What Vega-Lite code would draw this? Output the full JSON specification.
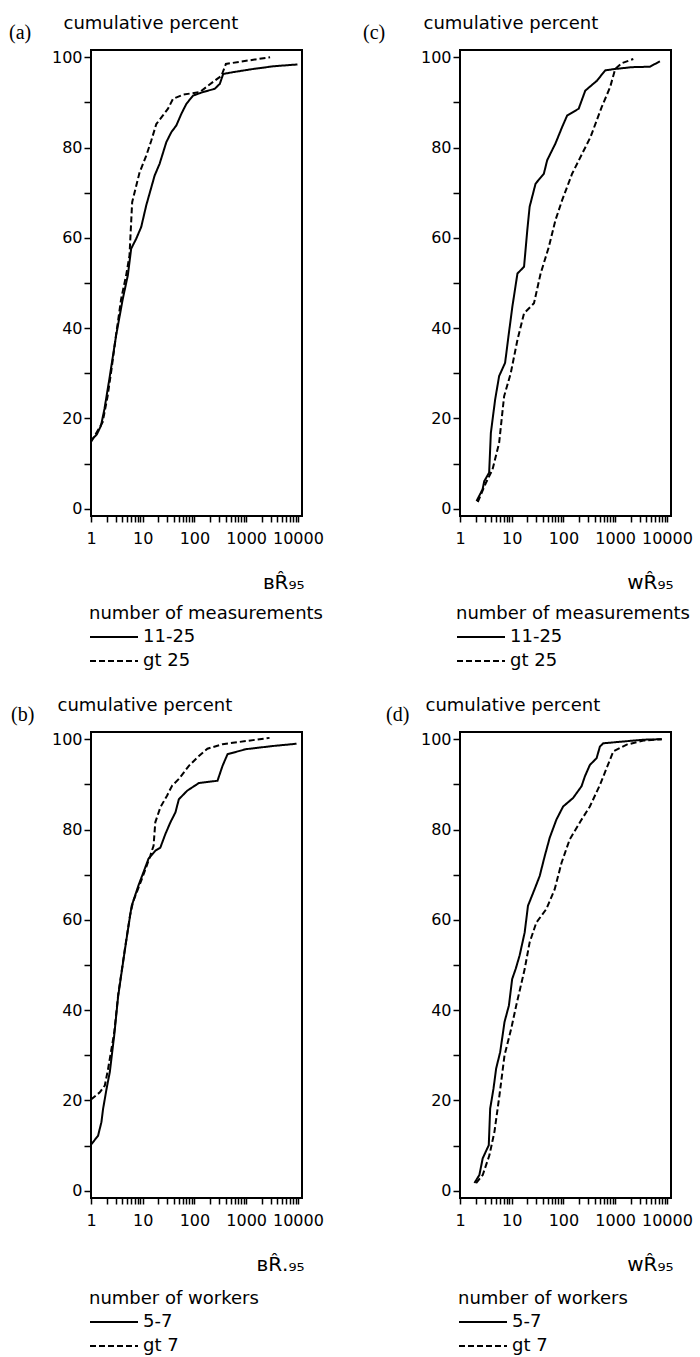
{
  "$schema": "https://vega.github.io/schema/vega-lite/v6.json",
  "background": "white",
  "padding": {"left": 8, "top": 13, "right": 5, "bottom": 5},
  "columns": 2,
  "spacing": {"row": 216, "column": 158},
  "bounds": "flush",
  "resolve": {"scale": {"strokeDash": "independent"}, "legend": {"strokeDash": "independent"}},
  "datasets": {
    "curves": [
      {"panel": "a", "series": "11-25", "x": 1.0, "y": 15.1},
      {"panel": "a", "series": "11-25", "x": 1.3, "y": 16.5},
      {"panel": "a", "series": "11-25", "x": 1.56, "y": 18.4},
      {"panel": "a", "series": "11-25", "x": 1.82, "y": 22.1},
      {"panel": "a", "series": "11-25", "x": 2.27, "y": 28.8},
      {"panel": "a", "series": "11-25", "x": 3.06, "y": 38.4},
      {"panel": "a", "series": "11-25", "x": 4.12, "y": 46.5},
      {"panel": "a", "series": "11-25", "x": 5.15, "y": 51.7},
      {"panel": "a", "series": "11-25", "x": 5.98, "y": 57.6},
      {"panel": "a", "series": "11-25", "x": 7.48, "y": 59.8},
      {"panel": "a", "series": "11-25", "x": 9.35, "y": 62.4},
      {"panel": "a", "series": "11-25", "x": 11.7, "y": 67.2},
      {"panel": "a", "series": "11-25", "x": 17.0, "y": 73.8},
      {"panel": "a", "series": "11-25", "x": 21.2, "y": 76.4},
      {"panel": "a", "series": "11-25", "x": 28.6, "y": 81.2},
      {"panel": "a", "series": "11-25", "x": 35.7, "y": 83.4},
      {"panel": "a", "series": "11-25", "x": 44.7, "y": 84.9},
      {"panel": "a", "series": "11-25", "x": 56, "y": 87.5},
      {"panel": "a", "series": "11-25", "x": 70, "y": 89.7},
      {"panel": "a", "series": "11-25", "x": 94, "y": 91.5},
      {"panel": "a", "series": "11-25", "x": 147, "y": 92.3},
      {"panel": "a", "series": "11-25", "x": 246, "y": 93.0},
      {"panel": "a", "series": "11-25", "x": 309, "y": 94.1},
      {"panel": "a", "series": "11-25", "x": 360, "y": 96.3},
      {"panel": "a", "series": "11-25", "x": 563, "y": 96.7},
      {"panel": "a", "series": "11-25", "x": 1374, "y": 97.4},
      {"panel": "a", "series": "11-25", "x": 3380, "y": 98.0},
      {"panel": "a", "series": "11-25", "x": 9800, "y": 98.4},
      {"panel": "a", "series": "gt 25", "x": 1.0, "y": 14.8},
      {"panel": "a", "series": "gt 25", "x": 1.3, "y": 17.0},
      {"panel": "a", "series": "gt 25", "x": 1.68, "y": 19.2},
      {"panel": "a", "series": "gt 25", "x": 2.1, "y": 25.0},
      {"panel": "a", "series": "gt 25", "x": 2.5, "y": 31.0},
      {"panel": "a", "series": "gt 25", "x": 3.06, "y": 38.6},
      {"panel": "a", "series": "gt 25", "x": 3.83, "y": 46.5},
      {"panel": "a", "series": "gt 25", "x": 4.78, "y": 51.7},
      {"panel": "a", "series": "gt 25", "x": 5.55, "y": 56.1},
      {"panel": "a", "series": "gt 25", "x": 6.25, "y": 67.9},
      {"panel": "a", "series": "gt 25", "x": 8.7, "y": 74.5},
      {"panel": "a", "series": "gt 25", "x": 11.7, "y": 78.2},
      {"panel": "a", "series": "gt 25", "x": 14.6, "y": 81.5},
      {"panel": "a", "series": "gt 25", "x": 18.3, "y": 85.2},
      {"panel": "a", "series": "gt 25", "x": 24.6, "y": 87.1},
      {"panel": "a", "series": "gt 25", "x": 30.8, "y": 88.6},
      {"panel": "a", "series": "gt 25", "x": 38.5, "y": 90.8},
      {"panel": "a", "series": "gt 25", "x": 60, "y": 91.7},
      {"panel": "a", "series": "gt 25", "x": 127, "y": 92.3},
      {"panel": "a", "series": "gt 25", "x": 184, "y": 93.7},
      {"panel": "a", "series": "gt 25", "x": 246, "y": 94.8},
      {"panel": "a", "series": "gt 25", "x": 333, "y": 95.9},
      {"panel": "a", "series": "gt 25", "x": 405, "y": 98.5},
      {"panel": "a", "series": "gt 25", "x": 760, "y": 99.0},
      {"panel": "a", "series": "gt 25", "x": 2900, "y": 100.0},

      {"panel": "c", "series": "11-25", "x": 2.09, "y": 1.7},
      {"panel": "c", "series": "11-25", "x": 2.73, "y": 4.3},
      {"panel": "c", "series": "11-25", "x": 2.94, "y": 6.1},
      {"panel": "c", "series": "11-25", "x": 3.66, "y": 8.0},
      {"panel": "c", "series": "11-25", "x": 3.95, "y": 16.8},
      {"panel": "c", "series": "11-25", "x": 4.78, "y": 24.2},
      {"panel": "c", "series": "11-25", "x": 5.71, "y": 29.4},
      {"panel": "c", "series": "11-25", "x": 7.44, "y": 32.3},
      {"panel": "c", "series": "11-25", "x": 8.63, "y": 38.1},
      {"panel": "c", "series": "11-25", "x": 10.3, "y": 44.8},
      {"panel": "c", "series": "11-25", "x": 12.9, "y": 52.1},
      {"panel": "c", "series": "11-25", "x": 17.3, "y": 53.6},
      {"panel": "c", "series": "11-25", "x": 20, "y": 61.7},
      {"panel": "c", "series": "11-25", "x": 22.2, "y": 66.9},
      {"panel": "c", "series": "11-25", "x": 28.9, "y": 72.0},
      {"panel": "c", "series": "11-25", "x": 41.8, "y": 74.2},
      {"panel": "c", "series": "11-25", "x": 48.5, "y": 77.2},
      {"panel": "c", "series": "11-25", "x": 70, "y": 80.9},
      {"panel": "c", "series": "11-25", "x": 94, "y": 84.5},
      {"panel": "c", "series": "11-25", "x": 118, "y": 87.1},
      {"panel": "c", "series": "11-25", "x": 197, "y": 88.6},
      {"panel": "c", "series": "11-25", "x": 264, "y": 92.6},
      {"panel": "c", "series": "11-25", "x": 444, "y": 94.8},
      {"panel": "c", "series": "11-25", "x": 643, "y": 97.1},
      {"panel": "c", "series": "11-25", "x": 1000, "y": 97.4},
      {"panel": "c", "series": "11-25", "x": 2100, "y": 97.8},
      {"panel": "c", "series": "11-25", "x": 4700, "y": 97.9},
      {"panel": "c", "series": "11-25", "x": 7330, "y": 99.1},
      {"panel": "c", "series": "gt 25", "x": 2.2, "y": 1.5},
      {"panel": "c", "series": "gt 25", "x": 3.16, "y": 5.7},
      {"panel": "c", "series": "gt 25", "x": 4.25, "y": 8.7},
      {"panel": "c", "series": "gt 25", "x": 5.71, "y": 14.6},
      {"panel": "c", "series": "gt 25", "x": 7.12, "y": 24.9},
      {"panel": "c", "series": "gt 25", "x": 9.56, "y": 30.0},
      {"panel": "c", "series": "gt 25", "x": 12.9, "y": 37.4},
      {"panel": "c", "series": "gt 25", "x": 17.3, "y": 43.3},
      {"panel": "c", "series": "gt 25", "x": 26.9, "y": 45.5},
      {"panel": "c", "series": "gt 25", "x": 36.2, "y": 52.1},
      {"panel": "c", "series": "gt 25", "x": 52.2, "y": 58.0},
      {"panel": "c", "series": "gt 25", "x": 70, "y": 63.9},
      {"panel": "c", "series": "gt 25", "x": 94, "y": 68.3},
      {"panel": "c", "series": "gt 25", "x": 147, "y": 74.2},
      {"panel": "c", "series": "gt 25", "x": 229, "y": 78.6},
      {"panel": "c", "series": "gt 25", "x": 333, "y": 82.3},
      {"panel": "c", "series": "gt 25", "x": 550, "y": 89.0},
      {"panel": "c", "series": "gt 25", "x": 800, "y": 93.4},
      {"panel": "c", "series": "gt 25", "x": 1000, "y": 97.4},
      {"panel": "c", "series": "gt 25", "x": 1350, "y": 98.7},
      {"panel": "c", "series": "gt 25", "x": 2240, "y": 99.6},

      {"panel": "b", "series": "5-7", "x": 1.0, "y": 10.2},
      {"panel": "b", "series": "5-7", "x": 1.37, "y": 12.2},
      {"panel": "b", "series": "5-7", "x": 1.59, "y": 15.2},
      {"panel": "b", "series": "5-7", "x": 1.71, "y": 18.1},
      {"panel": "b", "series": "5-7", "x": 2.0, "y": 22.6},
      {"panel": "b", "series": "5-7", "x": 2.31, "y": 26.3},
      {"panel": "b", "series": "5-7", "x": 2.81, "y": 34.4},
      {"panel": "b", "series": "5-7", "x": 3.36, "y": 43.2},
      {"panel": "b", "series": "5-7", "x": 3.91, "y": 48.4},
      {"panel": "b", "series": "5-7", "x": 4.54, "y": 53.5},
      {"panel": "b", "series": "5-7", "x": 5.69, "y": 60.9},
      {"panel": "b", "series": "5-7", "x": 6.12, "y": 63.1},
      {"panel": "b", "series": "5-7", "x": 8.26, "y": 67.6},
      {"panel": "b", "series": "5-7", "x": 10.3, "y": 70.5},
      {"panel": "b", "series": "5-7", "x": 12.9, "y": 73.5},
      {"panel": "b", "series": "5-7", "x": 17.5, "y": 75.3},
      {"panel": "b", "series": "5-7", "x": 21.9, "y": 76.0},
      {"panel": "b", "series": "5-7", "x": 27.4, "y": 79.0},
      {"panel": "b", "series": "5-7", "x": 34.3, "y": 81.6},
      {"panel": "b", "series": "5-7", "x": 42.9, "y": 83.8},
      {"panel": "b", "series": "5-7", "x": 49.9, "y": 86.7},
      {"panel": "b", "series": "5-7", "x": 72.4, "y": 88.6},
      {"panel": "b", "series": "5-7", "x": 122, "y": 90.3},
      {"panel": "b", "series": "5-7", "x": 279, "y": 90.8},
      {"panel": "b", "series": "5-7", "x": 349, "y": 94.1},
      {"panel": "b", "series": "5-7", "x": 437, "y": 96.7},
      {"panel": "b", "series": "5-7", "x": 995, "y": 97.8},
      {"panel": "b", "series": "5-7", "x": 3300, "y": 98.5},
      {"panel": "b", "series": "5-7", "x": 9400, "y": 99.0},
      {"panel": "b", "series": "gt 7", "x": 1.0, "y": 20.2},
      {"panel": "b", "series": "gt 7", "x": 1.48, "y": 21.8},
      {"panel": "b", "series": "gt 7", "x": 1.85, "y": 23.3},
      {"panel": "b", "series": "gt 7", "x": 2.14, "y": 27.0},
      {"panel": "b", "series": "gt 7", "x": 2.81, "y": 35.0},
      {"panel": "b", "series": "gt 7", "x": 3.36, "y": 43.5},
      {"panel": "b", "series": "gt 7", "x": 3.91, "y": 48.6},
      {"panel": "b", "series": "gt 7", "x": 4.54, "y": 53.7},
      {"panel": "b", "series": "gt 7", "x": 5.69, "y": 61.0},
      {"panel": "b", "series": "gt 7", "x": 6.5, "y": 64.0},
      {"panel": "b", "series": "gt 7", "x": 9.6, "y": 69.0},
      {"panel": "b", "series": "gt 7", "x": 14.0, "y": 74.2},
      {"panel": "b", "series": "gt 7", "x": 16.2, "y": 76.4},
      {"panel": "b", "series": "gt 7", "x": 17.5, "y": 81.6},
      {"panel": "b", "series": "gt 7", "x": 21.9, "y": 84.9},
      {"panel": "b", "series": "gt 7", "x": 29.5, "y": 87.5},
      {"panel": "b", "series": "gt 7", "x": 36.9, "y": 89.7},
      {"panel": "b", "series": "gt 7", "x": 49.9, "y": 91.2},
      {"panel": "b", "series": "gt 7", "x": 78, "y": 94.1},
      {"panel": "b", "series": "gt 7", "x": 122, "y": 96.3},
      {"panel": "b", "series": "gt 7", "x": 178, "y": 97.9},
      {"panel": "b", "series": "gt 7", "x": 349, "y": 98.9},
      {"panel": "b", "series": "gt 7", "x": 995, "y": 99.6},
      {"panel": "b", "series": "gt 7", "x": 2830, "y": 100.3},

      {"panel": "d", "series": "5-7", "x": 1.9, "y": 1.7},
      {"panel": "d", "series": "5-7", "x": 2.37, "y": 3.5},
      {"panel": "d", "series": "5-7", "x": 2.75, "y": 7.2},
      {"panel": "d", "series": "5-7", "x": 3.6, "y": 10.1},
      {"panel": "d", "series": "5-7", "x": 3.83, "y": 18.2},
      {"panel": "d", "series": "5-7", "x": 4.44, "y": 22.6},
      {"panel": "d", "series": "5-7", "x": 5.0, "y": 27.1},
      {"panel": "d", "series": "5-7", "x": 5.98, "y": 30.7},
      {"panel": "d", "series": "5-7", "x": 7.26, "y": 37.4},
      {"panel": "d", "series": "5-7", "x": 8.81, "y": 41.0},
      {"panel": "d", "series": "5-7", "x": 10.2, "y": 46.9},
      {"panel": "d", "series": "5-7", "x": 11.9, "y": 49.1},
      {"panel": "d", "series": "5-7", "x": 14.2, "y": 52.1},
      {"panel": "d", "series": "5-7", "x": 17.8, "y": 57.2},
      {"panel": "d", "series": "5-7", "x": 20.6, "y": 63.1},
      {"panel": "d", "series": "5-7", "x": 27.7, "y": 66.8},
      {"panel": "d", "series": "5-7", "x": 34.7, "y": 69.7},
      {"panel": "d", "series": "5-7", "x": 43.4, "y": 74.1},
      {"panel": "d", "series": "5-7", "x": 54.3, "y": 78.2},
      {"panel": "d", "series": "5-7", "x": 73.1, "y": 82.2},
      {"panel": "d", "series": "5-7", "x": 98.6, "y": 85.1},
      {"panel": "d", "series": "5-7", "x": 154, "y": 87.0},
      {"panel": "d", "series": "5-7", "x": 224, "y": 89.6},
      {"panel": "d", "series": "5-7", "x": 260, "y": 91.8},
      {"panel": "d", "series": "5-7", "x": 324, "y": 94.3},
      {"panel": "d", "series": "5-7", "x": 437, "y": 95.8},
      {"panel": "d", "series": "5-7", "x": 508, "y": 98.4},
      {"panel": "d", "series": "5-7", "x": 589, "y": 99.1},
      {"panel": "d", "series": "5-7", "x": 1445, "y": 99.5},
      {"panel": "d", "series": "5-7", "x": 3540, "y": 99.9},
      {"panel": "d", "series": "5-7", "x": 7960, "y": 100.0},
      {"panel": "d", "series": "gt 7", "x": 2.05, "y": 1.7},
      {"panel": "d", "series": "gt 7", "x": 2.75, "y": 3.5},
      {"panel": "d", "series": "gt 7", "x": 3.71, "y": 7.9},
      {"panel": "d", "series": "gt 7", "x": 4.64, "y": 13.1},
      {"panel": "d", "series": "gt 7", "x": 5.8, "y": 21.2},
      {"panel": "d", "series": "gt 7", "x": 7.26, "y": 30.0},
      {"panel": "d", "series": "gt 7", "x": 9.78, "y": 35.9},
      {"panel": "d", "series": "gt 7", "x": 12.2, "y": 41.0},
      {"panel": "d", "series": "gt 7", "x": 17.8, "y": 49.1},
      {"panel": "d", "series": "gt 7", "x": 22.2, "y": 55.0},
      {"panel": "d", "series": "gt 7", "x": 29.9, "y": 59.4},
      {"panel": "d", "series": "gt 7", "x": 46.7, "y": 62.4},
      {"panel": "d", "series": "gt 7", "x": 67.8, "y": 66.8},
      {"panel": "d", "series": "gt 7", "x": 91.6, "y": 72.6},
      {"panel": "d", "series": "gt 7", "x": 132, "y": 77.8},
      {"panel": "d", "series": "gt 7", "x": 224, "y": 82.2},
      {"panel": "d", "series": "gt 7", "x": 324, "y": 85.1},
      {"panel": "d", "series": "gt 7", "x": 508, "y": 89.9},
      {"panel": "d", "series": "gt 7", "x": 920, "y": 97.3},
      {"panel": "d", "series": "gt 7", "x": 1670, "y": 98.8},
      {"panel": "d", "series": "gt 7", "x": 3540, "y": 99.7},
      {"panel": "d", "series": "gt 7", "x": 7960, "y": 100.0}
    ]
  },
  "concat": [
    {
      "width": 211, "height": 466,
      "title": {"text": "(a)", "dx": -82, "dy": 33},
      "data": {"name": "curves"},
      "transform": [{"filter": "datum.panel == 'a'"}],
      "mark": {"type": "line", "color": "black", "strokeWidth": 2},
      "encoding": {
        "x": {"field": "x", "type": "quantitative", "scale": {"type": "log", "domain": [1, 12000], "nice": false},
              "axis": {"title": "ʙR̂₉₅", "titleX": 213, "titleY": 72}},
        "y": {"field": "y", "type": "quantitative", "scale": {"domain": [-1.6, 101.6], "nice": false, "zero": false},
              "axis": {"title": "cumulative percent", "titleX": -28, "titleY": -22}},
        "strokeDash": {"field": "series", "type": "nominal",
              "scale": {"domain": ["11-25", "gt 25"], "range": [[1, 0], [6, 3]]},
              "legend": {"title": "number of measurements", "legendX": -2, "legendY": 555}}
      }
    },
    {
      "width": 211, "height": 466,
      "title": {"text": "(c)", "dx": -97, "dy": 33},
      "data": {"name": "curves"},
      "transform": [{"filter": "datum.panel == 'c'"}],
      "mark": {"type": "line", "color": "black", "strokeWidth": 2},
      "encoding": {
        "x": {"field": "x", "type": "quantitative", "scale": {"type": "log", "domain": [1, 12000], "nice": false},
              "axis": {"title": "wR̂₉₅", "titleX": 213, "titleY": 72}},
        "y": {"field": "y", "type": "quantitative", "scale": {"domain": [-1.6, 101.6], "nice": false, "zero": false},
              "axis": {"title": "cumulative percent", "titleX": -37, "titleY": -22}},
        "strokeDash": {"field": "series", "type": "nominal",
              "scale": {"domain": ["11-25", "gt 25"], "range": [[1, 0], [6, 3]]},
              "legend": {"title": "number of measurements", "legendX": -4, "legendY": 555}}
      }
    },
    {
      "width": 211, "height": 466,
      "title": {"text": "(b)", "dx": -80, "dy": 33},
      "data": {"name": "curves"},
      "transform": [{"filter": "datum.panel == 'b'"}],
      "mark": {"type": "line", "color": "black", "strokeWidth": 2},
      "encoding": {
        "x": {"field": "x", "type": "quantitative", "scale": {"type": "log", "domain": [1, 12000], "nice": false},
              "axis": {"title": "ʙR̂.₉₅", "titleX": 213, "titleY": 72}},
        "y": {"field": "y", "type": "quantitative", "scale": {"domain": [-1.6, 101.6], "nice": false, "zero": false},
              "axis": {"title": "cumulative percent", "titleX": -34, "titleY": -22}},
        "strokeDash": {"field": "series", "type": "nominal",
              "scale": {"domain": ["5-7", "gt 7"], "range": [[1, 0], [6, 3]]},
              "legend": {"title": "number of workers", "legendX": -2, "legendY": 558}}
      }
    },
    {
      "width": 211, "height": 466,
      "title": {"text": "(d)", "dx": -74, "dy": 33},
      "data": {"name": "curves"},
      "transform": [{"filter": "datum.panel == 'd'"}],
      "mark": {"type": "line", "color": "black", "strokeWidth": 2},
      "encoding": {
        "x": {"field": "x", "type": "quantitative", "scale": {"type": "log", "domain": [1, 12000], "nice": false},
              "axis": {"title": "wR̂₉₅", "titleX": 213, "titleY": 72}},
        "y": {"field": "y", "type": "quantitative", "scale": {"domain": [-1.6, 101.6], "nice": false, "zero": false},
              "axis": {"title": "cumulative percent", "titleX": -35, "titleY": -22}},
        "strokeDash": {"field": "series", "type": "nominal",
              "scale": {"domain": ["5-7", "gt 7"], "range": [[1, 0], [6, 3]]},
              "legend": {"title": "number of workers", "legendX": -2, "legendY": 558}}
      }
    }
  ],
  "config": {
    "font": "DejaVu Sans",
    "view": {"stroke": "black", "strokeWidth": 2},
    "title": {"font": "Liberation Serif", "fontSize": 20, "fontWeight": "normal", "color": "black", "anchor": "start", "frame": "group", "offset": 0, "baseline": "alphabetic"},
    "axisX": {
      "values": [1,2,3,4,5,6,7,8,9,10,20,30,40,50,60,70,80,90,100,200,300,400,500,600,700,800,900,1000,2000,3000,4000,5000,6000,7000,8000,9000,10000],
      "format": "d",
      "labelExpr": "(datum.value == 1 || datum.value == 10 || datum.value == 100 || datum.value == 1000 || datum.value == 10000) ? datum.label : ''",
      "labelOverlap": false, "labelFlush": false, "labelBound": false,
      "tickSize": 6, "labelPadding": 8,
      "titleAlign": "right", "titleBaseline": "alphabetic", "titleFontSize": 20
    },
    "axisY": {
      "values": [0,10,20,30,40,50,60,70,80,90,100],
      "labelExpr": "datum.value % 20 == 0 ? datum.label : ''",
      "tickSize": 7, "labelPadding": 2,
      "titleAngle": 0, "titleAlign": "left", "titleBaseline": "alphabetic", "titleFontSize": 18
    },
    "axis": {
      "domain": false, "grid": false,
      "tickColor": "black", "tickWidth": 1.5,
      "labelColor": "black", "labelFontSize": 16, "labelFont": "DejaVu Sans",
      "titleColor": "black", "titleFontWeight": "normal", "titleFont": "DejaVu Sans"
    },
    "legend": {
      "orient": "none", "direction": "vertical",
      "titleFontSize": 18, "titleFontWeight": "normal", "titleColor": "black", "titleFont": "DejaVu Sans", "titleLimit": 0,
      "labelFontSize": 18, "labelColor": "black", "labelFont": "DejaVu Sans", "labelLimit": 0,
      "symbolType": "stroke", "symbolSize": 2300, "symbolStrokeWidth": 2, "symbolStrokeColor": "black",
      "clipHeight": 24,
      "labelOffset": 4, "rowPadding": 0, "titlePadding": 2, "padding": 0
    }
  }
}
